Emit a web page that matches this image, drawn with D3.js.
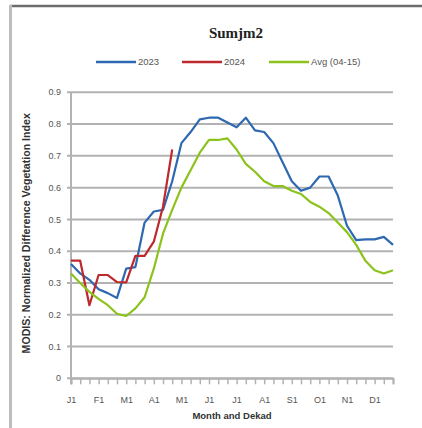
<!DOCTYPE html>
<html><head><meta charset="utf-8">
<script src="https://cdn.jsdelivr.net/npm/d3@7"></script>
<style>html,body{margin:0;padding:0;background:#fff;}svg{display:block;}</style>
</head><body>
<svg id="c" width="422" height="428"></svg>
<script>
const title = "Sumjm2";
const yTitle = "MODIS: Normalized Difference Vegetation Index";
const xTitle = "Month and Dekad";
const months = ["J","F","M","A","M","J","J","A","S","O","N","D"];
const dekads = months.flatMap((m, mi) => [1,2,3].map(d => ({key: mi*3 + d - 1, label: m + d})));
const yTicks = [0,0.1,0.2,0.3,0.4,0.5,0.6,0.7,0.8,0.9];
const seriesNames = ["2023","2024","Avg (04-15)"];
const seriesColors = ["#2d68b0","#bd2a2e","#8cc21c"];
const v2023 = [0.36,0.33,0.31,0.28,0.268,0.253,0.345,0.35,0.49,0.525,0.53,0.62,0.74,0.775,0.815,0.82,0.82,0.805,0.79,0.82,0.78,0.775,0.74,0.68,0.62,0.59,0.60,0.635,0.635,0.575,0.48,0.435,0.437,0.437,0.445,0.42];
const v2024 = [0.37,0.37,0.23,0.325,0.325,0.303,0.302,0.385,0.385,0.43,0.54,0.72];
const vAvg  = [0.33,0.30,0.272,0.25,0.23,0.203,0.196,0.22,0.255,0.345,0.455,0.53,0.60,0.655,0.71,0.75,0.75,0.755,0.72,0.675,0.65,0.62,0.605,0.605,0.59,0.58,0.555,0.54,0.52,0.49,0.46,0.42,0.37,0.34,0.33,0.34];
const seriesValues = [v2023, v2024, vAvg];

const svg = d3.select("#c");
// frame
svg.append("line").attr("x1",10).attr("x2",422).attr("y1",6).attr("y2",6).attr("stroke","#6c6c6c").attr("stroke-width",2.5);
svg.append("line").attr("x1",10.5).attr("x2",10.5).attr("y1",5).attr("y2",428).attr("stroke","#bdbdbd").attr("stroke-width",3);

const L = 71, R = 393, T = 92.3, B = 378.3;
const x = d3.scalePoint().domain(dekads.map(d => d.key)).range([L, R]);
const y = d3.scaleLinear().domain([0, 0.9]).range([B, T]);

// gridlines + y ticks
const gy = svg.append("g");
gy.selectAll("line").data(yTicks).join("line")
  .attr("x1", L - 4).attr("x2", R).attr("y1", d => y(d)).attr("y2", d => y(d))
  .attr("stroke", "#b2b2b2").attr("stroke-width", 2);
gy.selectAll("text").data(yTicks).join("text")
  .attr("x", 61).attr("y", d => y(d)).attr("dy", "0.35em").attr("text-anchor", "end")
  .attr("font-family", "Liberation Sans, Arial, sans-serif").attr("font-size", 9).attr("fill", "#555")
  .text(d => d === 0 ? "0" : d3.format(".1f")(d));

// y axis line
svg.append("line").attr("x1", L).attr("x2", L).attr("y1", T).attr("y2", B + 6).attr("stroke", "#b2b2b2").attr("stroke-width", 2);

// x axis
const xAxis = d3.axisBottom(x).tickSize(6).tickPadding(12)
  .tickFormat(k => { const d = dekads[k]; return d.label.endsWith("1") ? d.label : ""; });
const gx = svg.append("g").attr("transform", `translate(0,${B})`).call(xAxis);
gx.select(".domain").attr("stroke", "#b2b2b2").attr("stroke-width", 2);
gx.selectAll(".tick line").attr("stroke", "#b2b2b2").attr("stroke-width", 1.5);
gx.selectAll(".tick text").attr("font-family", "Liberation Sans, Arial, sans-serif").attr("font-size", 9).attr("fill", "#555");

// lines
const line = d3.line().x((d, i) => x(i)).y(d => y(d));
seriesValues.forEach((vals, si) => {
  svg.append("path").datum(vals).attr("d", line).attr("fill", "none")
    .attr("stroke", seriesColors[si]).attr("stroke-width", 2.2).attr("stroke-linejoin", "round");
});

// title
svg.append("text").attr("x", 236).attr("y", 38).attr("text-anchor", "middle")
  .attr("font-family", "Liberation Serif, serif").attr("font-weight", "bold").attr("font-size", 15).attr("fill", "#222")
  .text(title);

// legend
const legX = [96, 182, 269];
seriesNames.forEach((n, i) => {
  svg.append("line").attr("x1", legX[i]).attr("x2", legX[i] + 40).attr("y1", 62).attr("y2", 62)
    .attr("stroke", seriesColors[i]).attr("stroke-width", 2.5);
  svg.append("text").attr("x", legX[i] + 42).attr("y", 62).attr("dy", "0.35em")
    .attr("font-family", "Liberation Sans, Arial, sans-serif").attr("font-size", 9.5).attr("fill", "#555").text(n);
});

// axis titles
svg.append("text").attr("transform", `translate(30,${(T + B) / 2 - 2}) rotate(-90)`).attr("text-anchor", "middle")
  .attr("font-family", "Liberation Sans, Arial, sans-serif").attr("font-weight", "bold").attr("font-size", 10.6).attr("fill", "#333")
  .text(yTitle);
svg.append("text").attr("x", 232).attr("y", 416).attr("dy", "0.35em").attr("text-anchor", "middle")
  .attr("font-family", "Liberation Sans, Arial, sans-serif").attr("font-weight", "bold").attr("font-size", 9.5).attr("fill", "#333")
  .text(xTitle);
</script>
</body></html>
